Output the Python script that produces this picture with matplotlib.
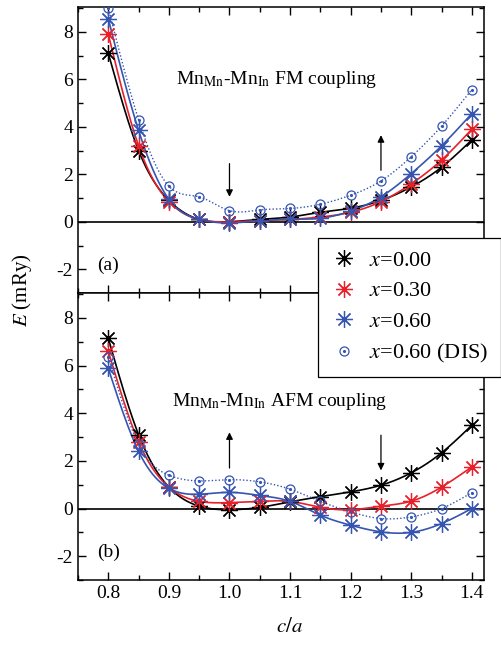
import numpy as np
import matplotlib
matplotlib.use("Agg")
import matplotlib.pyplot as plt
from matplotlib.ticker import MultipleLocator

plt.rcParams['font.family'] = ['Liberation Serif', 'DejaVu Serif']
plt.rcParams['mathtext.fontset'] = 'stix'
plt.rcParams['font.size'] = 13
plt.rcParams['axes.unicode_minus'] = False

ca = [0.80, 0.85, 0.90, 0.95, 1.00, 1.05, 1.10, 1.15, 1.20, 1.25, 1.30, 1.35, 1.40]

# (a) Mn_Mn - Mn_In FM coupling
fm_x000 = [7.1, 3.0, 0.9, 0.1, 0.0, 0.1, 0.2, 0.4, 0.57, 0.9, 1.47, 2.3, 3.45]
fm_x030 = [7.9, 3.2, 0.85, 0.1, 0.0, 0.05, 0.1, 0.2, 0.4, 0.85, 1.6, 2.6, 3.9]
fm_x060 = [8.55, 3.85, 0.95, 0.1, -0.05, 0.05, 0.1, 0.15, 0.45, 1.05, 2.03, 3.2, 4.56]
fm_dis = [9.0, 4.3, 1.5, 1.05, 0.47, 0.5, 0.56, 0.74, 1.12, 1.72, 2.74, 4.03, 5.57]

# (b) Mn_Mn - Mn_In AFM coupling
afm_x000 = [7.15, 3.1, 0.9, 0.1, -0.05, 0.05, 0.28, 0.5, 0.7, 0.98, 1.5, 2.34, 3.5]
afm_x030 = [6.6, 2.8, 0.9, 0.3, 0.25, 0.3, 0.3, 0.05, -0.05, 0.1, 0.31, 0.9, 1.75]
afm_x060 = [5.88, 2.4, 0.85, 0.6, 0.68, 0.55, 0.3, -0.28, -0.7, -0.98, -1.0, -0.63, 0.0]
afm_dis = [6.37, 2.7, 1.4, 1.16, 1.21, 1.12, 0.81, 0.3, -0.14, -0.42, -0.35, 0.0, 0.67]

labels = ['$x$=0.00', '$x$=0.30', '$x$=0.60', '$x$=0.60 (DIS)']
colors = ['black', '#e8202a', '#3555b0', '#3555b0']


def spline(x, y, n=300):
    # natural cubic spline, just for the smooth guide lines
    x = np.asarray(x, float)
    y = np.asarray(y, float)
    m = len(x)
    h = np.diff(x)
    A = np.zeros((m, m))
    b = np.zeros(m)
    A[0, 0] = 1
    A[-1, -1] = 1
    for i in range(1, m - 1):
        A[i, i - 1] = h[i - 1]
        A[i, i] = 2 * (h[i - 1] + h[i])
        A[i, i + 1] = h[i]
        b[i] = 3 * ((y[i + 1] - y[i]) / h[i] - (y[i] - y[i - 1]) / h[i - 1])
    c = np.linalg.solve(A, b)
    xs = np.linspace(x[0], x[-1], n)
    idx = np.clip(np.searchsorted(x, xs) - 1, 0, m - 2)
    dx = xs - x[idx]
    bb = (y[idx + 1] - y[idx]) / h[idx] - h[idx] * (2 * c[idx] + c[idx + 1]) / 3
    d = (c[idx + 1] - c[idx]) / (3 * h[idx])
    ys = y[idx] + bb * dx + c[idx] * dx ** 2 + d * dx ** 3
    return xs, ys


star = (8, 2, 0)


def panel(ax, series, tag, title, tx, ty, arrows):
    ax.axhline(0, color='black', lw=1.2, zorder=1)
    handles = []
    for k, (yv, col) in enumerate(zip(series, colors)):
        xs, ys = spline(ca, yv)
        if k < 3:
            ax.plot(xs, ys, color=col, lw=1.2, zorder=2)
            h, = ax.plot(ca, yv, ls='none', marker=star, ms=12, mew=0.9,
                         color=col, zorder=3)
            handles.append(h)
        else:
            ax.plot(xs, ys, color=col, lw=1.0, ls=(0, (1, 1.5)), zorder=2)
            h1, = ax.plot(ca, yv, ls='none', marker='o', ms=6.5, mfc='none',
                          mew=0.9, color=col, zorder=3)
            h2, = ax.plot(ca, yv, ls='none', marker='.', ms=2.5, color=col,
                          zorder=3)
            handles.append((h1, h2))
    ax.text(0.8, -1.85, tag, ha='center', va='center', fontsize=14)
    ax.text(tx, ty, title, ha='left', va='center', fontsize=14)
    for xa, y0, y1 in arrows:
        ax.annotate('', xy=(xa, y1), xytext=(xa, y0),
                    arrowprops=dict(arrowstyle='-|>', color='black', lw=0.9,
                                    mutation_scale=10, shrinkA=0, shrinkB=0))
    ax.set_xlim(0.75, 1.42)
    ax.set_ylim(-3, 9.05)
    ax.xaxis.set_major_locator(MultipleLocator(0.1))
    ax.xaxis.set_minor_locator(MultipleLocator(0.05))
    ax.yaxis.set_major_locator(MultipleLocator(2))
    ax.yaxis.set_minor_locator(MultipleLocator(1))
    ax.tick_params(which='both', direction='in', top=True, right=True,
                   labelsize=14, width=1)
    ax.tick_params(which='major', length=6)
    ax.tick_params(which='minor', length=3.5)
    for s in ax.spines.values():
        s.set_linewidth(1.1)
    return handles


fig = plt.figure(figsize=(5.01, 6.55), dpi=100)
ax1 = fig.add_axes([0.1557, 0.5527, 0.8103, 0.4366])
ax2 = fig.add_axes([0.1557, 0.1145, 0.8103, 0.4382], sharex=ax1)

handles = panel(ax1, [fm_x000, fm_x030, fm_x060, fm_dis], '(a)',
                r'Mn$_{\mathrm{Mn}}$-Mn$_{\mathrm{In}}$ FM coupling', 0.912, 6.0,
                [(1.0, 2.45, 1.05), (1.25, 2.17, 3.65)])
panel(ax2, [afm_x000, afm_x030, afm_x060, afm_dis], '(b)',
      r'Mn$_{\mathrm{Mn}}$-Mn$_{\mathrm{In}}$ AFM coupling', 0.905, 4.5,
      [(1.0, 1.7, 3.2), (1.25, 3.08, 1.6)])
ax1.tick_params(labelbottom=False)
ax2.set_xticks([0.8, 0.9, 1.0, 1.1, 1.2, 1.3, 1.4])
ax2.set_xticklabels(['0.8', '0.9', '1.0', '1.1', '1.2', '1.3', '1.4'])

fig.text(290 / 501, 1 - 628 / 655, '$c/a$', ha='center', va='center', fontsize=15)
fig.text(22 / 501, 1 - 290 / 655, '$E$ (mRy)', ha='center', va='center',
         rotation=90, fontsize=15)

leg = fig.legend(handles, labels, loc='upper left',
                 bbox_to_anchor=(318 / 501, 1 - 238 / 655), fontsize=16,
                 frameon=True, fancybox=False, edgecolor='black', framealpha=1,
                 borderpad=0.55, labelspacing=0.45, handlelength=1.2,
                 handletextpad=0.55, borderaxespad=0)
leg.get_frame().set_linewidth(0.9)

fig.savefig('out.png', dpi=100)
